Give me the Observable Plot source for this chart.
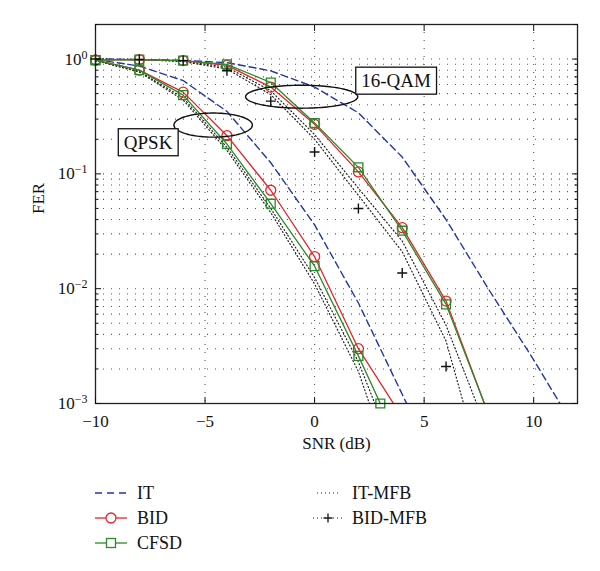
<!DOCTYPE html>
<html><head><meta charset="utf-8">
<script src="https://cdn.jsdelivr.net/npm/d3@7"></script>
<script src="https://cdn.jsdelivr.net/npm/@observablehq/plot@0.6"></script>
<style>
body{margin:0;background:#fff;}
#wrap{position:relative;width:600px;height:571px;font-family:"Liberation Serif","Times New Roman",serif;color:#111;background:#fff;}
#chart{position:absolute;left:0;top:0;}
.sw{position:absolute;}
.lt{position:absolute;font-size:18px;line-height:20px;white-space:nowrap;}
</style></head><body><div id="wrap"><div id="chart"></div><div id="legend"></div></div>
<script>
// ---- data ----
const xMajor = [-10, -5, 0, 5, 10];
const yMajor = [0.001, 0.01, 0.1, 1];
const yExp = ["−3", "−2", "−1", "0"];
const yExpUni = ["⁻³", "⁻²", "⁻¹", "⁰"];
const yMinorMult = [2, 3, 4, 5, 6, 7, 8, 9];

const seriesNames = ["IT", "BID", "CFSD", "IT-MFB", "BID-MFB"];
const groups = ["QPSK", "16-QAM"];

// [SNR dB, FER]
const qpskIT      = [[-10,0.99],[-8,0.87],[-6,0.65],[-4,0.35],[-2,0.125],[0,0.036],[2,0.0075],[4.2,0.001]];
const qam16IT     = [[-10,1.0],[-8,0.99],[-6,0.975],[-4,0.93],[-2,0.79],[0,0.57],[2,0.34],[4,0.14],[6,0.04],[8,0.0095],[10,0.0024],[11.2,0.001]];
const qpskBID     = [[-10,0.98],[-8,0.80],[-6,0.515],[-4,0.215],[-2,0.072],[0,0.019],[2,0.003],[3.6,0.001]];
const qam16BID    = [[-10,0.98],[-8,0.99],[-6,0.97],[-4,0.88],[-2,0.57],[0,0.27],[2,0.104],[4,0.034],[6,0.0078],[7.75,0.001]];
const qpskCFSD    = [[-10,0.98],[-8,0.80],[-6,0.485],[-4,0.182],[-2,0.055],[0,0.0157],[2,0.0026],[3.0,0.001]];
const qam16CFSD   = [[-10,0.98],[-8,0.99],[-6,0.97],[-4,0.90],[-2,0.625],[0,0.277],[2,0.114],[4,0.032],[6,0.0073],[7.75,0.001]];
const qpskITMFB   = [[-10,0.97],[-8,0.77],[-6,0.44],[-4,0.16],[-2,0.046],[0,0.011],[2,0.0019],[2.5,0.001]];
const qam16ITMFB  = [[-10,1.0],[-8,0.99],[-6,0.95],[-4,0.82],[-2,0.49],[0,0.2],[2,0.065],[4,0.021],[6,0.0035],[6.8,0.001]];
const qpskBIDMFB  = [[-10,0.97],[-8,0.78],[-6,0.46],[-4,0.17],[-2,0.05],[0,0.0125],[2,0.0023],[2.75,0.001]];
const qam16BIDMFB = [[-10,1.0],[-8,0.99],[-6,0.96],[-4,0.85],[-2,0.53],[0,0.22],[2,0.075],[4,0.026],[6,0.0048],[7.4,0.001]];
const qam16BIDMFBmarks = [[-10,1.0],[-8,0.99],[-6,0.97],[-4,0.79],[-2,0.43],[0,0.155],[2,0.05],[4,0.0137],[6,0.0021]];

// annotations: ellipse centre (dB, FER), half-width (dB), half-height (decades); label position
const annNames = ["QPSK", "16-QAM"];
const annEllipseC = [[-4.63, 0.266], [-0.59, 0.47]];
const annEllipseR = [[1.79, 0.105], [2.56, 0.10]];
const annLabelPos = [[-7.6, 0.187], [3.72, 0.643]];

// ---- styles ----
const colors = {"IT": "#2436a6", "BID": "#e2262b", "CFSD": "#2a8a2a", "IT-MFB": "#222", "BID-MFB": "#222"};
const FONT = '"Liberation Serif","Times New Roman",serif';

// ---- build tables ----
const table = [];
function add(name, group, pts) { pts.forEach(([x, y]) => table.push({series: name, group, x, y})); }
add("IT", "QPSK", qpskIT); add("IT", "16-QAM", qam16IT);
add("BID", "QPSK", qpskBID); add("BID", "16-QAM", qam16BID);
add("CFSD", "QPSK", qpskCFSD); add("CFSD", "16-QAM", qam16CFSD);
add("IT-MFB", "QPSK", qpskITMFB); add("IT-MFB", "16-QAM", qam16ITMFB);
add("BID-MFB", "QPSK", qpskBIDMFB); add("BID-MFB", "16-QAM", qam16BIDMFB);
const of = s => table.filter(d => d.series === s);
const marked = s => of(s).filter(d => Number.isInteger(d.x));
const plusMarks = qam16BIDMFBmarks.map(([x, y]) => ({x, y}));

const ellipsePts = [];
annNames.forEach((n, i) => {
  const [cx, cy] = annEllipseC[i], [rx, ry] = annEllipseR[i];
  d3.range(0, 361, 3).forEach(a => {
    const t = a * Math.PI / 180;
    ellipsePts.push({name: n, x: cx + rx * Math.cos(t), y: Math.pow(10, Math.log10(cy) + ry * Math.sin(t))});
  });
});
const labels = annNames.map((n, i) => ({text: n, x: annLabelPos[i][0], y: annLabelPos[i][1]}));

const yMinor = yMajor.flatMap(d => yMinorMult.map(m => +(d * m).toPrecision(3))).filter(v => v <= 2);
const yGrid = [...yMajor, ...yMinor].filter(v => v > 0.001 && v < 2);

const plot = Plot.plot({
  width: 600, height: 462,
  marginTop: 24, marginBottom: 59, marginLeft: 95, marginRight: 23,
  style: {fontFamily: FONT, fontSize: "17px", color: "#111", background: "white", overflow: "visible"},
  x: {domain: [-10, 12], axis: null},
  y: {type: "log", domain: [0.001, 2], axis: null},
  marks: [
    Plot.ruleX(xMajor.filter(d => d > -10), {stroke: "#555", strokeDasharray: "1,7", strokeWidth: 1.1}),
    Plot.ruleY(yGrid, {stroke: "#555", strokeDasharray: "1,7", strokeWidth: 1.1}),
    Plot.line(of("IT"), {x: "x", y: "y", z: "group", stroke: colors["IT"], strokeWidth: 1.4, strokeDasharray: "7,4", clip: true}),
    Plot.line(of("IT-MFB"), {x: "x", y: "y", z: "group", stroke: colors["IT-MFB"], strokeWidth: 1.2, strokeDasharray: "1,2.5", clip: true}),
    Plot.line(of("BID-MFB"), {x: "x", y: "y", z: "group", stroke: colors["BID-MFB"], strokeWidth: 1.2, strokeDasharray: "1,2.5", clip: true}),
    Plot.line(of("BID"), {x: "x", y: "y", z: "group", stroke: colors["BID"], strokeWidth: 1.3, clip: true}),
    Plot.dot(marked("BID"), {x: "x", y: "y", r: 5, stroke: colors["BID"], strokeWidth: 1.3, fill: "none"}),
    Plot.line(of("CFSD"), {x: "x", y: "y", z: "group", stroke: colors["CFSD"], strokeWidth: 1.3, clip: true}),
    Plot.dot(marked("CFSD"), {x: "x", y: "y", r: 5, symbol: "square", stroke: colors["CFSD"], strokeWidth: 1.3, fill: "none"}),
    Plot.dot(plusMarks, {x: "x", y: "y", r: 3.3, symbol: "plus", stroke: "#111", strokeWidth: 1.4}),
    Plot.line(ellipsePts, {x: "x", y: "y", z: "name", stroke: "#111", strokeWidth: 1.4}),
    Plot.text(labels, {x: "x", y: "y", text: "text", fontSize: 19, fill: "#111"}),
    Plot.frame({stroke: "#222", strokeWidth: 1.3}),
    Plot.axisX(xMajor, {anchor: "bottom", tickSize: 0, tickPadding: 11, label: null, fontSize: 17}),
    Plot.axisX(xMajor, {anchor: "bottom", tickSize: -6, fill: "none", label: null}),
    Plot.axisX(xMajor, {anchor: "top", tickSize: -6, fill: "none", label: null}),
    Plot.axisY(yMajor, {anchor: "left", tickSize: 0, tickPadding: 8, label: null, fontSize: 17,
      tickFormat: d => "10" + yExpUni[yMajor.indexOf(d)]}),
    Plot.axisY(yMajor, {anchor: "left", tickSize: -6, fill: "none", label: null}),
    Plot.axisY(yMinor, {anchor: "left", tickSize: -3.5, fill: "none", label: null}),
    Plot.axisY(yMajor, {anchor: "right", tickSize: -6, fill: "none", label: null}),
    Plot.axisY(yMinor, {anchor: "right", tickSize: -3.5, fill: "none", label: null}),
    Plot.text(["SNR (dB)"], {frameAnchor: "bottom", dy: 45, fontSize: 17, fill: "#111"}),
    Plot.text(["FER"], {frameAnchor: "left", dx: -57, rotate: -90, fontSize: 17, fill: "#111"})
  ]
});
document.getElementById("chart").append(plot);

// superscript exponents on y tick labels
const NS = "http://www.w3.org/2000/svg";
plot.querySelectorAll('g[aria-label="y-axis tick label"] text').forEach(t => {
  const s = t.textContent; const i = yExpUni.findIndex(u => s.endsWith(u));
  if (i < 0) return;
  t.textContent = "10";
  const ts = document.createElementNS(NS, "tspan");
  ts.setAttribute("dy", "-0.5em"); ts.setAttribute("font-size", "12");
  ts.textContent = yExp[i];
  t.appendChild(ts);
});
// boxes round annotation labels
Array.from(plot.querySelectorAll("text")).filter(t => annNames.includes(t.textContent)).forEach(t => {
  const b = t.getBBox();
  const r = document.createElementNS(NS, "rect");
  const tr = t.getAttribute("transform") || "";
  r.setAttribute("x", b.x - 5.5); r.setAttribute("y", b.y - 3);
  r.setAttribute("width", b.width + 11); r.setAttribute("height", b.height + 6);
  r.setAttribute("fill", "white"); r.setAttribute("stroke", "#111"); r.setAttribute("stroke-width", "1.3");
  if (tr) r.setAttribute("transform", tr);
  t.parentNode.insertBefore(r, t);
});

// ---- legend ----
const leg = document.getElementById("legend");
const legItems = [
  {name: "IT", col: 0, row: 0}, {name: "BID", col: 0, row: 1}, {name: "CFSD", col: 0, row: 2},
  {name: "IT-MFB", col: 1, row: 0}, {name: "BID-MFB", col: 1, row: 1}
];
const rowY = [493, 518, 543];
const colSw = [[93, 36], [311, 34]];
const colTx = [137, 352];
legItems.forEach(it => {
  const [sx, sw] = colSw[it.col], cy = rowY[it.row], c = colors[it.name];
  let inner = "";
  const m = sw / 2;
  if (it.name === "IT") inner = `<line x1="2" x2="${sw-2}" y1="10" y2="10" stroke="${c}" stroke-width="1.4" stroke-dasharray="7,5"/>`;
  if (it.name === "BID") inner = `<line x1="2" x2="${sw-2}" y1="10" y2="10" stroke="${c}" stroke-width="1.3"/><circle cx="${m}" cy="10" r="5" fill="white" stroke="${c}" stroke-width="1.3"/>`;
  if (it.name === "CFSD") inner = `<line x1="2" x2="${sw-2}" y1="10" y2="10" stroke="${c}" stroke-width="1.3"/><rect x="${m-4.5}" y="5.5" width="9" height="9" fill="white" stroke="${c}" stroke-width="1.3"/>`;
  if (it.name === "IT-MFB") inner = `<line x1="6" x2="${sw-4}" y1="10" y2="10" stroke="${c}" stroke-width="1.2" stroke-dasharray="1,3"/>`;
  if (it.name === "BID-MFB") inner = `<line x1="2" x2="${sw-2}" y1="10" y2="10" stroke="${c}" stroke-width="1.2" stroke-dasharray="1,3"/><path d="M${m-4.5},10H${m+4.5}M${m},5.5V14.5" stroke="${c}" stroke-width="1.4"/>`;
  const sv = document.createElement("div");
  sv.className = "sw"; sv.style.left = sx + "px"; sv.style.top = (cy - 10) + "px";
  sv.innerHTML = `<svg width="${sw}" height="20">${inner}</svg>`;
  leg.appendChild(sv);
  const tx = document.createElement("div");
  tx.className = "lt"; tx.style.left = colTx[it.col] + "px"; tx.style.top = (cy - 10) + "px";
  tx.textContent = it.name;
  leg.appendChild(tx);
});
</script></body></html>
